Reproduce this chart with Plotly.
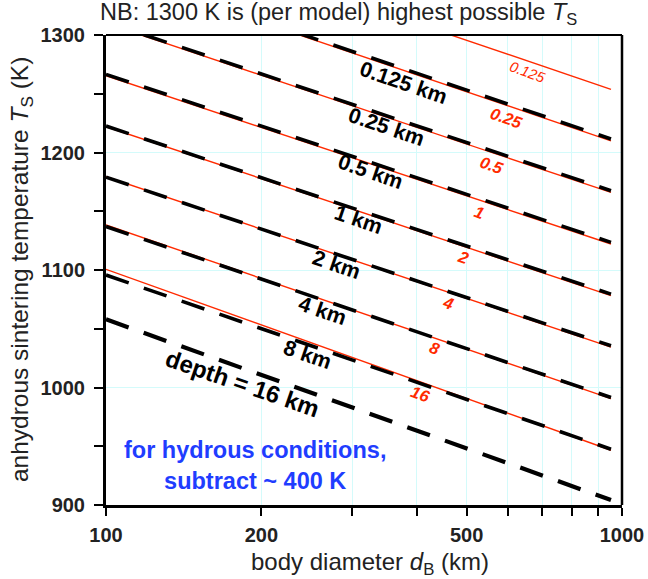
import math
import plotly.graph_objects as go

# ---- data ----
D_START = 100    # km, left end of every line
D_END = 952      # km, right end of every line

red_labels = ["0.125", "0.25", "0.5", "1", "2", "4", "8", "16"]
red_T_start = [1399.6, 1356.0, 1310.0, 1265.4, 1222.0, 1179.4, 1138.3, 1100.6]
red_T_end = [1253.8, 1209.9, 1166.0, 1122.1, 1078.2, 1034.3, 990.5, 946.6]

black_labels = ["0.125 km", "0.25 km", "0.5 km", "1 km", "2 km", "4 km", "8 km", "depth = 16 km"]
black_T_start = [1357.0, 1311.0, 1266.5, 1222.5, 1179.0, 1137.0, 1095.7, 1058.0]
black_T_end = [1211.5, 1167.5, 1123.5, 1079.5, 1035.5, 991.5, 947.5, 904.2]

# label anchor positions (diameter km, temperature K)
red_label_d = [655, 598, 559, 529, 492, 461, 434, 407]
red_label_T = [1268.5, 1229.1, 1189.4, 1149.6, 1110.8, 1071.7, 1033.4, 994.5]
black_label_d = [377, 349, 326, 309, 280, 263, 246, 184]
black_label_T = [1259.1, 1221.7, 1183.4, 1142.6, 1104.3, 1065.1, 1027.7, 1003.0]

x_tick_vals = [100, 200, 500, 1000]
x_tick_text = ["100", "200", "500", "1000"]
x_minor_vals = [300, 400, 600, 700, 800, 900]
y_tick_vals = [900, 1000, 1100, 1200, 1300]
y_tick_text = ["900", "1000", "1100", "1200", "1300"]

RED = "#ff2a00"
BLUE = "#1f3dff"
GRID = "#d4fbfb"
FONT = "Liberation Sans"

fig = go.Figure()

for i in range(len(red_labels)):
    fig.add_trace(go.Scatter(
        x=[D_START, D_END], y=[red_T_start[i], red_T_end[i]],
        mode="lines", line=dict(color=RED, width=1.4),
        showlegend=False, hoverinfo="skip"))

for i in range(len(black_labels)):
    w = 4.2 if i == len(black_labels) - 1 else 3.6
    fig.add_trace(go.Scatter(
        x=[D_START, D_END], y=[black_T_start[i], black_T_end[i]],
        mode="lines", line=dict(color="black", width=w, dash="24px,16px"),
        showlegend=False, hoverinfo="skip"))

annotations = []
for i, t in enumerate(red_labels):
    small = (i == 0)
    annotations.append(dict(
        x=math.log10(red_label_d[i]), y=red_label_T[i], xref="x", yref="y",
        text=("<i>%s</i>" % t) if small else ("<b><i>%s</i></b>" % t),
        showarrow=False, textangle=20,
        font=dict(family=FONT, size=14.5 if small else 16.5, color=RED)))

for i, t in enumerate(black_labels):
    last = (i == len(black_labels) - 1)
    annotations.append(dict(
        x=math.log10(black_label_d[i]), y=black_label_T[i], xref="x", yref="y",
        text="<b>%s</b>" % t, showarrow=False, textangle=19,
        font=dict(family=FONT, size=24 if last else 21.5, color="black")))

annotations.append(dict(
    x=math.log10(194), y=934, xref="x", yref="y",
    text="<b>for hydrous conditions,<br>subtract ~ 400 K</b>",
    showarrow=False, align="center",
    font=dict(family=FONT, size=23.5, color=BLUE)))

# chart title
annotations.append(dict(
    x=-0.0155, y=1.045, xref="paper", yref="paper", xanchor="left", yanchor="middle",
    text="NB: 1300 K is (per model) highest possible <i>T</i><sub>S</sub>",
    showarrow=False, font=dict(family=FONT, size=23.5, color="#222")))

# axis titles
annotations.append(dict(
    x=0.5116, y=-0.124, xref="paper", yref="paper", xanchor="center", yanchor="middle",
    text="body diameter <i>d</i><sub>B</sub> (km)",
    showarrow=False, font=dict(family=FONT, size=24, color="#222")))
annotations.append(dict(
    x=-0.1645, y=0.5, xref="paper", yref="paper", xanchor="center", yanchor="middle",
    text="anhydrous sintering temperature <i>T</i><sub>S</sub> (K)", textangle=-90,
    showarrow=False, font=dict(family=FONT, size=24.5, color="#222")))

fig.update_layout(
    width=648, height=579,
    margin=dict(l=106, r=26, t=35, b=74),
    paper_bgcolor="white", plot_bgcolor="white",
    annotations=annotations,
    shapes=[
        dict(type="line", xref="paper", yref="paper", x0=0, x1=1, y0=1, y1=1,
             line=dict(color="black", width=2)),
        dict(type="line", xref="paper", yref="paper", x0=1, x1=1, y0=0, y1=1,
             line=dict(color="black", width=2.5)),
    ],
    xaxis=dict(
        type="log", range=[2, 3], automargin=False,
        tickvals=x_tick_vals, ticktext=["<b>%s</b>" % t for t in x_tick_text],
        ticks="outside", ticklen=8, tickwidth=2, tickcolor="black",
        ticklabelstandoff=2,
        showline=True, linecolor="black", linewidth=3,
        showgrid=True, gridcolor=GRID, gridwidth=1, zeroline=False,
        minor=dict(tickvals=x_minor_vals, ticks="outside", ticklen=8, tickwidth=2,
                   tickcolor="black", showgrid=True, gridcolor=GRID, gridwidth=1),
        tickfont=dict(family=FONT, size=20, color="#222"),
    ),
    yaxis=dict(
        range=[900, 1300], automargin=False,
        tickvals=y_tick_vals, ticktext=["<b>%s</b>" % t for t in y_tick_text],
        ticks="outside", ticklen=9, tickwidth=2, tickcolor="black",
        ticklabelstandoff=5,
        showline=True, linecolor="black", linewidth=3,
        showgrid=True, gridcolor=GRID, gridwidth=1, zeroline=False,
        minor=dict(dtick=50, tick0=900, ticks="outside", ticklen=9, tickwidth=2,
                   tickcolor="black", showgrid=False),
        tickfont=dict(family=FONT, size=20, color="#222"),
    ),
)

fig.write_html("out.html")
